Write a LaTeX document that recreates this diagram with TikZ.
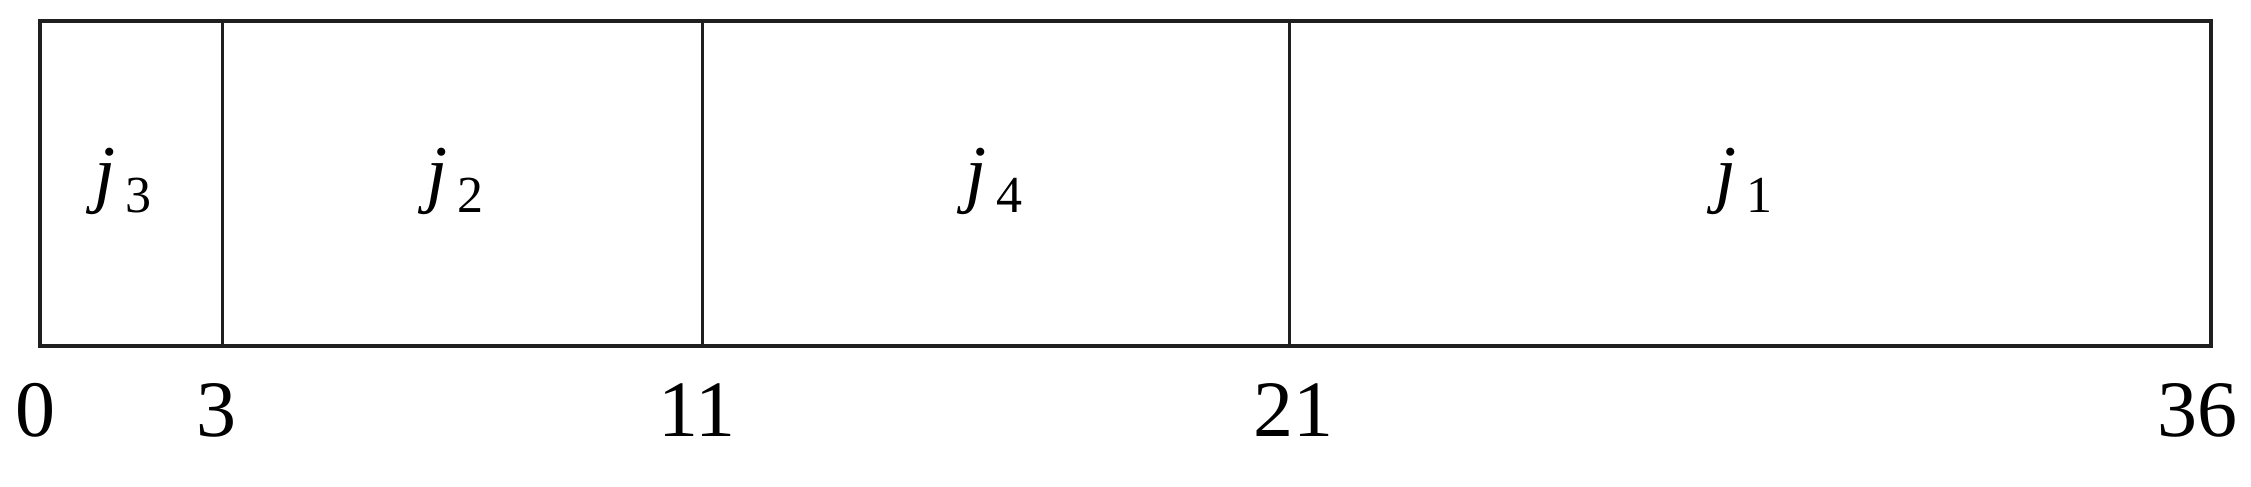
\documentclass[tikz,border=0pt]{standalone}
\usepackage{fontspec}
\setmainfont{Liberation Serif}
\begin{document}
\begin{tikzpicture}[x=1pt,y=-1pt,
  frame/.style={draw=black!88,line width=4pt},
  divider/.style={draw=black!88,line width=3pt},
  joblabel/.style={inner sep=0pt,anchor=base,font=\fontsize{76}{80}\selectfont},
  ticklabel/.style={inner sep=0pt,anchor=base,font=\fontsize{80}{84}\selectfont}]
\useasboundingbox (0,0) rectangle (2251,487);
\coordinate (t0) at (40,21.5);
\coordinate (b0) at (40,346);
\coordinate (t3) at (222.5,21.5);
\coordinate (b3) at (222.5,346);
\coordinate (t11) at (702,21.5);
\coordinate (b11) at (702,346);
\coordinate (t21) at (1289.5,21.5);
\coordinate (b21) at (1289.5,346);
\coordinate (t36) at (2211,21.5);
\coordinate (b36) at (2211,346);
\draw[divider] (t3) -- (b3);
\draw[divider] (t11) -- (b11);
\draw[divider] (t21) -- (b21);
\draw[frame] (t0) rectangle (b36);
\newcommand{\joblab}[1]{\textit{j}\hspace{10pt}\raisebox{-14pt}{\fontsize{52}{55}\selectfont #1}}
\node[joblabel] (j3) at (123,198.4) {\joblab{3}};
\node[joblabel] (j2) at (455,198.4) {\joblab{2}};
\node[joblabel] (j4) at (994,198.4) {\joblab{4}};
\node[joblabel] (j1) at (1744,198.4) {\joblab{1}};
\node[ticklabel] (n0) at (36,436) {0};
\node[ticklabel] (n3) at (216,436) {3};
\node[ticklabel] (n11) at (697,436) {11};
\node[ticklabel] (n21) at (1293,436) {21};
\node[ticklabel] (n36) at (2197,436) {36};
\end{tikzpicture}
\end{document}
